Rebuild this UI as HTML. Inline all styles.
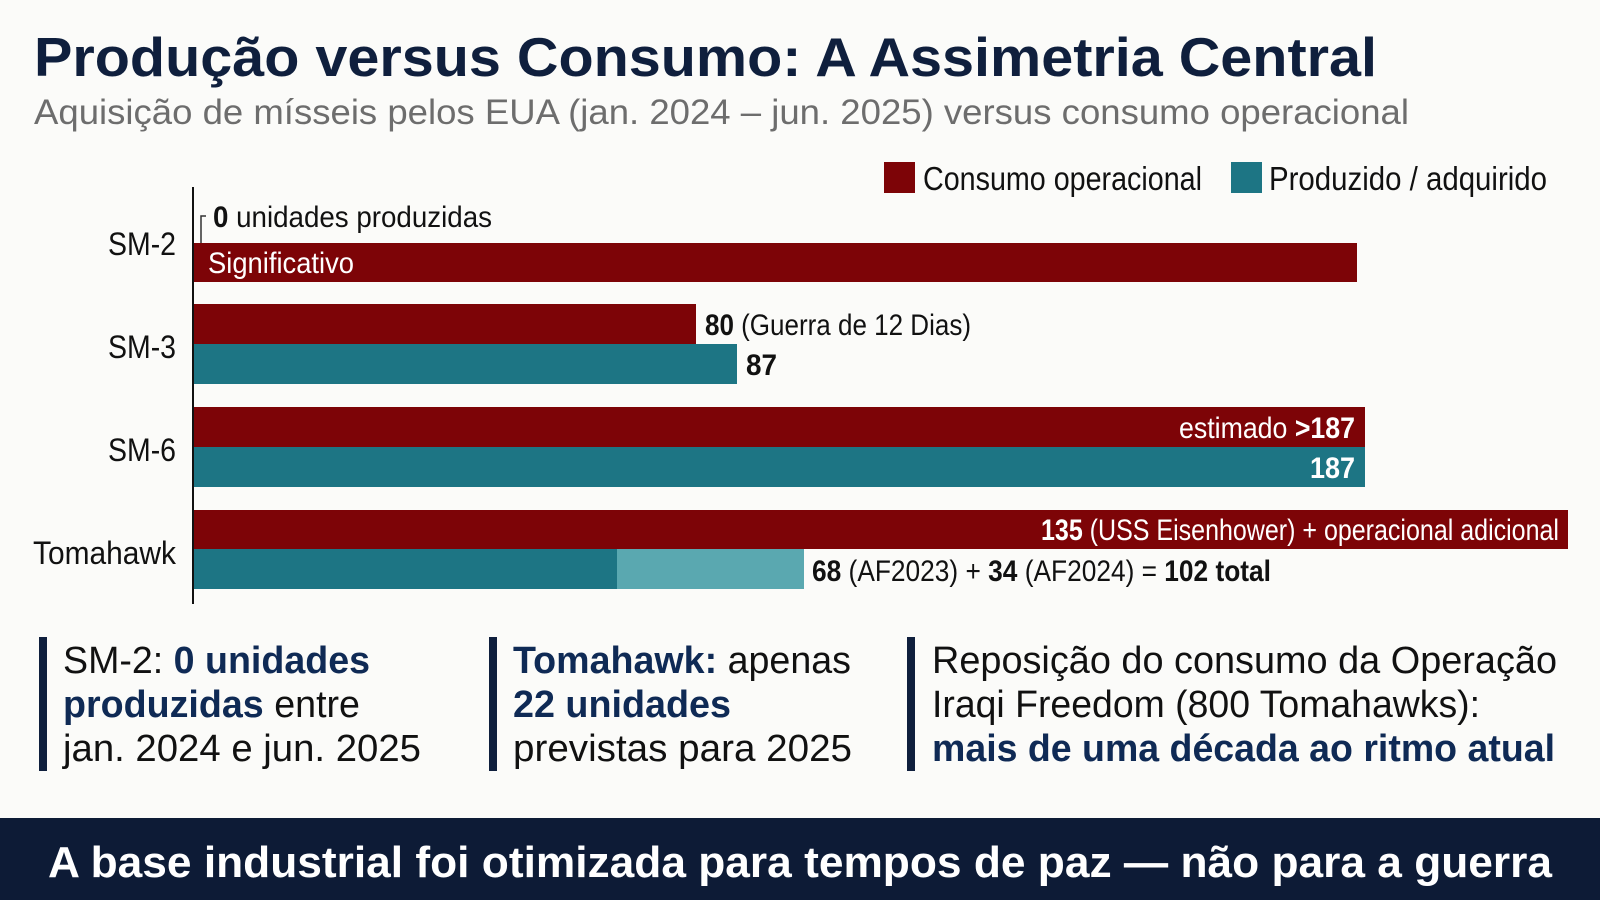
<!DOCTYPE html>
<html><head><meta charset="utf-8"><style>
html,body{margin:0;padding:0;background:#fbfbf9;}
svg{display:block}
text{font-family:"Liberation Sans",sans-serif}
</style></head><body>
<svg width="1600" height="900" viewBox="0 0 1600 900" xmlns="http://www.w3.org/2000/svg">
<rect width="1600" height="900" fill="#fbfbf9"/>
<text x="34" y="76" font-size="55" font-weight="bold" fill="#0f1f3d" textLength="1343" lengthAdjust="spacingAndGlyphs">Produção versus Consumo: A Assimetria Central</text>
<text x="34" y="124" font-size="35" fill="#6d6d6d" textLength="1375" lengthAdjust="spacingAndGlyphs">Aquisição de mísseis pelos EUA (jan. 2024 – jun. 2025) versus consumo operacional</text>
<rect x="884" y="162" width="31" height="31" fill="#7d0407"/>
<text x="923" y="190" font-size="33" fill="#111" textLength="279" lengthAdjust="spacingAndGlyphs">Consumo operacional</text>
<rect x="1231" y="162" width="31" height="31" fill="#1d7584"/>
<text x="1269" y="190" font-size="33" fill="#111" textLength="278" lengthAdjust="spacingAndGlyphs">Produzido / adquirido</text>
<g font-size="32" fill="#111" text-anchor="end">
<text x="176" y="255" textLength="68" lengthAdjust="spacingAndGlyphs">SM-2</text>
<text x="176" y="358" textLength="68" lengthAdjust="spacingAndGlyphs">SM-3</text>
<text x="176" y="461" textLength="68" lengthAdjust="spacingAndGlyphs">SM-6</text>
<text x="176" y="564" textLength="143" lengthAdjust="spacingAndGlyphs">Tomahawk</text>
</g>
<rect x="193" y="243" width="1164" height="39" fill="#7d0407"/>
<rect x="193" y="304" width="503" height="40" fill="#7d0407"/>
<rect x="193" y="344" width="544" height="40" fill="#1d7584"/>
<rect x="193" y="407" width="1172" height="40" fill="#7d0407"/>
<rect x="193" y="447" width="1172" height="40" fill="#1d7584"/>
<rect x="193" y="510" width="1375" height="39" fill="#7d0407"/>
<rect x="193" y="549" width="424" height="40" fill="#1d7584"/>
<rect x="617" y="549" width="187" height="40" fill="#5aa8b0"/>
<line x1="193" y1="187" x2="193" y2="604" stroke="#111" stroke-width="2"/>
<path d="M201 243 V216 H206" fill="none" stroke="#333" stroke-width="1.5"/>
<text x="213" y="227" font-size="30" fill="#111" textLength="279" lengthAdjust="spacingAndGlyphs"><tspan font-weight="bold">0</tspan> unidades produzidas</text>
<text x="208" y="273" font-size="30" fill="#fff" textLength="146" lengthAdjust="spacingAndGlyphs">Significativo</text>
<text x="705" y="335" font-size="30" fill="#111" textLength="266" lengthAdjust="spacingAndGlyphs"><tspan font-weight="bold">80</tspan> (Guerra de 12 Dias)</text>
<text x="746" y="375" font-size="30" font-weight="bold" fill="#111" textLength="31" lengthAdjust="spacingAndGlyphs">87</text>
<text x="1355" y="438" font-size="30" fill="#fff" text-anchor="end" textLength="176" lengthAdjust="spacingAndGlyphs">estimado <tspan font-weight="bold">&gt;187</tspan></text>
<text x="1355" y="478" font-size="30" font-weight="bold" fill="#fff" text-anchor="end" textLength="45" lengthAdjust="spacingAndGlyphs">187</text>
<text x="1559" y="540" font-size="30" fill="#fff" text-anchor="end" textLength="518" lengthAdjust="spacingAndGlyphs"><tspan font-weight="bold">135</tspan> (USS Eisenhower) + operacional adicional</text>
<text x="812" y="581" font-size="30" fill="#111" textLength="459" lengthAdjust="spacingAndGlyphs"><tspan font-weight="bold">68</tspan> (AF2023) + <tspan font-weight="bold">34</tspan> (AF2024) = <tspan font-weight="bold">102 total</tspan></text>
<rect x="39" y="637" width="8" height="134" fill="#0f1f3d"/>
<rect x="489" y="637" width="8" height="134" fill="#0f1f3d"/>
<rect x="907" y="637" width="8" height="134" fill="#0f1f3d"/>
<g font-size="38" fill="#111">
<text x="63" y="673" textLength="307" lengthAdjust="spacingAndGlyphs">SM-2: <tspan font-weight="bold" fill="#0f2a55">0 unidades</tspan></text>
<text x="63" y="717" textLength="297" lengthAdjust="spacingAndGlyphs"><tspan font-weight="bold" fill="#0f2a55">produzidas</tspan> entre</text>
<text x="63" y="761" textLength="358" lengthAdjust="spacingAndGlyphs">jan. 2024 e jun. 2025</text>
<text x="513" y="673" textLength="338" lengthAdjust="spacingAndGlyphs"><tspan font-weight="bold" fill="#0f2a55">Tomahawk:</tspan> apenas</text>
<text x="513" y="717" textLength="218" lengthAdjust="spacingAndGlyphs" font-weight="bold" fill="#0f2a55">22 unidades</text>
<text x="513" y="761" textLength="339" lengthAdjust="spacingAndGlyphs">previstas para 2025</text>
<text x="932" y="673" textLength="625" lengthAdjust="spacingAndGlyphs">Reposição do consumo da Operação</text>
<text x="932" y="717" textLength="548" lengthAdjust="spacingAndGlyphs">Iraqi Freedom (800 Tomahawks):</text>
<text x="932" y="761" textLength="623" lengthAdjust="spacingAndGlyphs" font-weight="bold" fill="#0f2a55">mais de uma década ao ritmo atual</text>
</g>
<rect x="0" y="818" width="1600" height="82" fill="#0d1b36"/>
<text x="800" y="877" font-size="44" font-weight="bold" fill="#fff" text-anchor="middle" textLength="1504" lengthAdjust="spacingAndGlyphs">A base industrial foi otimizada para tempos de paz — não para a guerra</text>
</svg>
</body></html>
